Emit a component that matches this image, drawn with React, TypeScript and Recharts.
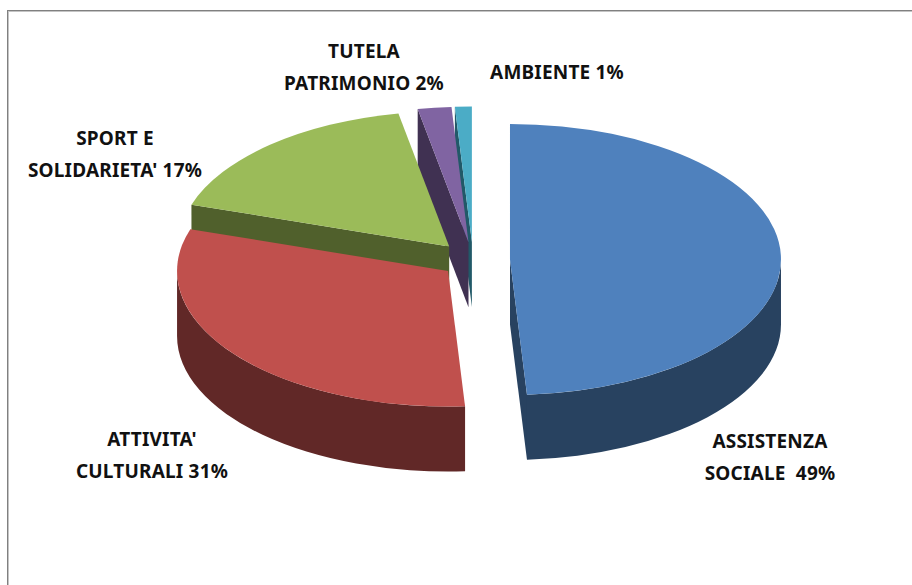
import { Cell, Pie, PieChart } from 'recharts';

// listed counter-clockwise from 12 o'clock, so the front slices paint last
const categories = ['AMBIENTE', 'TUTELA PATRIMONIO', "SPORT E SOLIDARIETA'", "ATTIVITA' CULTURALI", 'ASSISTENZA SOCIALE'];
const shares = [1, 2, 17, 31, 49];
const topColors = ['#4BACC6', '#8064A2', '#9BBB59', '#C0504D', '#4F81BD'];
const sideColors = ['#215968', '#403152', '#50602C', '#612827', '#284260'];
const labelLines = [
  ['AMBIENTE 1%'],
  ['TUTELA', 'PATRIMONIO 2%'],
  ['SPORT E', "SOLIDARIETA' 17%"],
  ["ATTIVITA'", 'CULTURALI 31%'],
  ['ASSISTENZA', 'SOCIALE  49%'],
];
const labelSpots = [
  [557, 79],
  [364, 58],
  [115, 145],
  [152, 446],
  [770, 448],
];
// the original's perspective pulls the lower-left slice back in a little
const perspectiveNudge = [0, 0, 0, 3.5, 1];

const data = categories.map((name, i) => ({ name, value: shares[i] }));

const SQUASH = 0.5; // ellipse height / width
const DEPTH = 65;
const EXPLODE = 36;
const LINE_GAP = 32;

const rad = (deg: number) => (deg * Math.PI) / 180;

function Slice3D(props: any) {
  const { cx, cy, outerRadius: rx, startAngle: a0, endAngle: a1, midAngle, fill, index } = props;
  const ry = rx * SQUASH;
  const ox = cx + EXPLODE * Math.cos(rad(midAngle)) + perspectiveNudge[index];
  const oy = cy - EXPLODE * SQUASH * Math.sin(rad(midAngle));
  const at = (a: number, drop = 0) => `${ox + rx * Math.cos(rad(a))} ${oy - ry * Math.sin(rad(a)) + drop}`;
  const side = sideColors[index];

  const radialFace = (a: number) =>
    `M${ox} ${oy} L${at(a)} L${at(a, DEPTH)} L${ox} ${oy + DEPTH} Z`;

  const wallFrom = Math.max(a0, 180);
  const wallTo = Math.min(a1, 360);
  const large = a1 - a0 > 180 ? 1 : 0;

  return (
    <g>
      {Math.cos(rad(a0)) > 0.001 && <path d={radialFace(a0)} fill={side} />}
      {Math.cos(rad(a1)) < -0.001 && <path d={radialFace(a1)} fill={side} />}
      {wallTo > wallFrom && (
        <path
          d={`M${at(wallFrom)} A${rx} ${ry} 0 0 0 ${at(wallTo)} L${at(wallTo, DEPTH)} A${rx} ${ry} 0 0 1 ${at(wallFrom, DEPTH)} Z`}
          fill={side}
        />
      )}
      <path d={`M${ox} ${oy} L${at(a0)} A${rx} ${ry} 0 ${large} 0 ${at(a1)} Z`} fill={fill} />
    </g>
  );
}

function SliceLabel({ index }: any) {
  const [x, y] = labelSpots[index];
  return (
    <text
      textAnchor="middle"
      fill="#111"
      fontFamily="'Noto Sans', sans-serif"
      fontWeight={700}
      fontSize={19}
      letterSpacing={0.2}
      style={{ whiteSpace: 'pre' }}
    >
      {labelLines[index].map((line, i) => (
        <tspan key={line} x={x} y={y + i * LINE_GAP}>
          {line}
        </tspan>
      ))}
    </text>
  );
}

export default function App() {
  return (
    <div style={{ position: 'absolute', left: 0, top: 0, width: 912, height: 585, background: '#fff', overflow: 'hidden' }}>
      <div
        style={{
          position: 'absolute',
          left: 7,
          top: 10,
          width: 960,
          height: 700,
          border: '1px solid #808080',
          boxShadow: 'inset 1px 1px 0 #C4C4C4',
        }}
      />
      <PieChart width={912} height={585} margin={{ top: 0, right: 0, bottom: 0, left: 0 }} style={{ position: 'absolute', left: 0, top: 0 }}>
        <Pie
          data={data}
          dataKey="value"
          nameKey="name"
          cx={473}
          cy={260}
          outerRadius={271}
          startAngle={90}
          endAngle={450}
          stroke="none"
          isAnimationActive={false}
          shape={Slice3D}
          label={SliceLabel}
          labelLine={false}
        >
          {data.map((d, i) => (
            <Cell key={d.name} fill={topColors[i]} />
          ))}
        </Pie>
      </PieChart>
    </div>
  );
}
